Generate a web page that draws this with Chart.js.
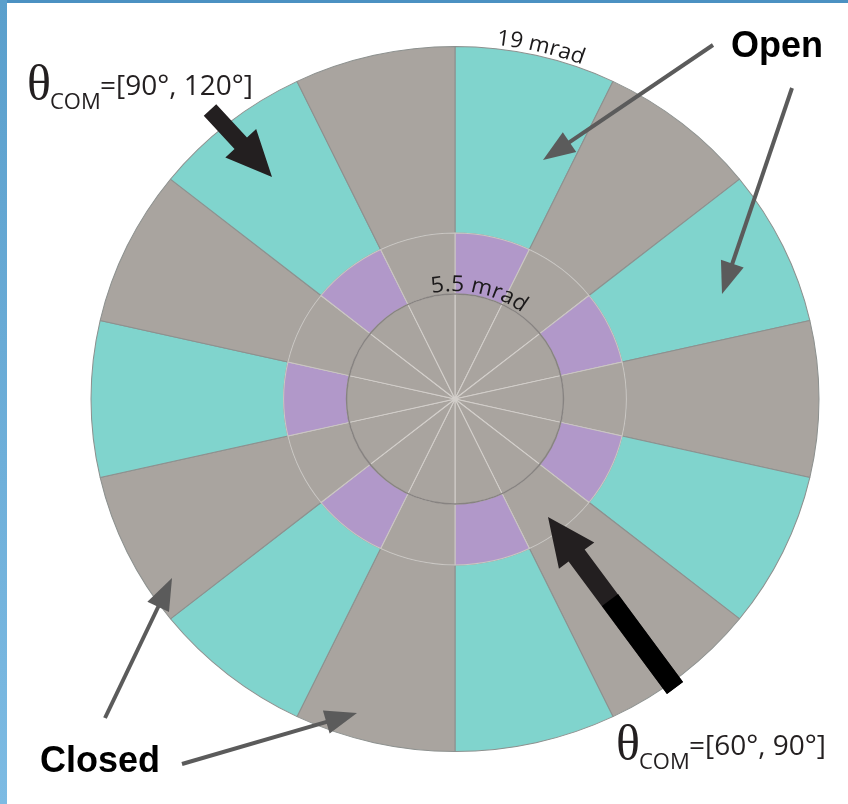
<!DOCTYPE html>
<html>
<head>
<meta charset="utf-8">
<script src="https://cdn.jsdelivr.net/npm/chart.js@4.4.1/dist/chart.umd.min.js"></script>
<style>
  html, body { margin: 0; padding: 0; background: #fff; }
  #wrap { position: relative; width: 848px; height: 804px; overflow: hidden; }
  #stripeTop { position: absolute; left: 0; top: 0; width: 848px; height: 3px; background: #4b91c2; }
  #stripeLeft { position: absolute; left: 0; top: 0; width: 7px; height: 804px; background: linear-gradient(#5a9fcc, #7dbbe3); }
  canvas { position: absolute; left: 0; top: 0; }
</style>
</head>
<body>
<div id="wrap">
  <canvas id="ringChart" width="848" height="804"></canvas>
  <div id="stripeTop"></div>
  <div id="stripeLeft"></div>
</div>
<script>
// ------------------------------------------------------------
// Azimuthal segmentation of the detector face (14 sectors)
// ------------------------------------------------------------
const sectorLabels = ['0–26°', '26–51°', '51–77°', '77–103°', '103–129°', '129–154°', '154–180°',
                      '180–206°', '206–231°', '231–257°', '257–283°', '283–309°', '309–334°', '334–360°'];
const sectorSpan   = [1, 1, 1, 1, 1, 1, 1, 1, 1, 1, 1, 1, 1, 1];

// outer ring (out to 19 mrad), middle ring, inner disc (5.5 mrad)
const outerState  = ['open', 'closed', 'open', 'closed', 'open', 'closed', 'open',
                     'closed', 'open', 'closed', 'open', 'closed', 'open', 'closed'];
const middleState = ['open', 'closed', 'open', 'closed', 'open', 'closed', 'open',
                     'closed', 'open', 'closed', 'open', 'closed', 'open', 'closed'];
const innerState  = ['closed', 'closed', 'closed', 'closed', 'closed', 'closed', 'closed',
                     'closed', 'closed', 'closed', 'closed', 'closed', 'closed', 'closed'];

const ringLabels  = ['19 mrad', '5.5 mrad'];
const thetaRanges = ['=[90°, 120°]', '=[60°, 90°]'];
const stateNames  = ['Open', 'Closed'];

const TEAL = '#80d4cd', GREY = '#a9a49f', PURPLE = '#b198c9';
const STRETCH_X = 1.0326;   // the ring is drawn slightly wider than tall

const outerColors  = outerState.map(s => s === 'open' ? TEAL : GREY);
const middleColors = middleState.map(s => s === 'open' ? PURPLE : GREY);
const innerColors  = innerState.map(() => GREY);

// ------------------------------------------------------------
// Drawing helpers
// ------------------------------------------------------------
function arcText(ctx, text, cx, cy, r, centerDeg) {
  const total = ctx.measureText(text).width;
  let a = centerDeg * Math.PI / 180 - total / 2 / r;
  ctx.textAlign = 'center';
  ctx.textBaseline = 'alphabetic';
  for (const ch of text) {
    const w = ctx.measureText(ch).width;
    ctx.save();
    ctx.translate(cx, cy);
    ctx.rotate(a + w / 2 / r);
    ctx.fillText(ch, 0, -r);
    ctx.restore();
    a += w / r;
  }
}

function blockArrow(ctx, tail, tip, shaftW, headW, headL, color) {
  const dx = tip[0] - tail[0], dy = tip[1] - tail[1];
  const len = Math.hypot(dx, dy);
  const ux = dx / len, uy = dy / len, nx = -uy, ny = ux;
  const bx = tip[0] - ux * headL, by = tip[1] - uy * headL;
  ctx.fillStyle = color;
  ctx.beginPath();
  ctx.moveTo(tail[0] + nx * shaftW / 2, tail[1] + ny * shaftW / 2);
  ctx.lineTo(bx + nx * shaftW / 2, by + ny * shaftW / 2);
  ctx.lineTo(bx + nx * headW / 2, by + ny * headW / 2);
  ctx.lineTo(tip[0], tip[1]);
  ctx.lineTo(bx - nx * headW / 2, by - ny * headW / 2);
  ctx.lineTo(bx - nx * shaftW / 2, by - ny * shaftW / 2);
  ctx.lineTo(tail[0] - nx * shaftW / 2, tail[1] - ny * shaftW / 2);
  ctx.closePath();
  ctx.fill();
}

function lineArrow(ctx, tail, tip, color) {
  const dx = tip[0] - tail[0], dy = tip[1] - tail[1];
  const len = Math.hypot(dx, dy);
  const ux = dx / len, uy = dy / len, nx = -uy, ny = ux;
  const headL = 32, headW = 24;
  const bx = tip[0] - ux * headL, by = tip[1] - uy * headL;
  ctx.strokeStyle = color;
  ctx.lineWidth = 4;
  ctx.beginPath();
  ctx.moveTo(tail[0], tail[1]);
  ctx.lineTo(bx + ux * 4, by + uy * 4);
  ctx.stroke();
  ctx.fillStyle = color;
  ctx.beginPath();
  ctx.moveTo(tip[0], tip[1]);
  ctx.lineTo(bx + nx * headW / 2, by + ny * headW / 2);
  ctx.lineTo(bx - nx * headW / 2, by - ny * headW / 2);
  ctx.closePath();
  ctx.fill();
}

function thetaLabel(ctx, x, y, range) {
  ctx.fillStyle = '#231f20';
  ctx.textAlign = 'left';
  ctx.textBaseline = 'alphabetic';
  ctx.font = '50px "Liberation Serif"';
  ctx.fillText('θ', x, y);
  ctx.font = '22px "Open Sans"';
  ctx.fillText('COM', x + 23, y + 9);
  ctx.font = '28px "Open Sans"';
  ctx.fillText(range, x + 73, y - 5);
}

// ------------------------------------------------------------
// Plugin: stretch the rings, then outline + labels + callouts
// ------------------------------------------------------------
const annotatePlugin = {
  id: 'annotate',
  beforeDatasetsDraw(chart) {
    const ctx = chart.ctx;
    const cx = (chart.chartArea.left + chart.chartArea.right) / 2;
    ctx.save();
    ctx.translate(cx, 0);
    ctx.scale(STRETCH_X, 1);
    ctx.translate(-cx, 0);
  },
  afterDatasetsDraw(chart) {
    const ctx = chart.ctx;
    const outerArc = chart.getDatasetMeta(0).data[0];
    const innerArc = chart.getDatasetMeta(2).data[0];
    const cx = innerArc.x, cy = innerArc.y;

    // inner disc outline
    ctx.strokeStyle = '#878381';
    ctx.lineWidth = 1.5;
    ctx.beginPath();
    ctx.arc(cx, cy, innerArc.outerRadius, 0, Math.PI * 2);
    ctx.stroke();

    // ring radii written along the rims
    ctx.fillStyle = '#1c1a1b';
    ctx.font = '22px "Open Sans"';
    arcText(ctx, ringLabels[0], cx, cy, outerArc.outerRadius + 4, 13.3);
    arcText(ctx, ringLabels[1], cx, cy, innerArc.outerRadius + 3, 12.5);
    ctx.restore();

    // callouts
    thetaLabel(ctx, 27, 100, thetaRanges[0]);
    thetaLabel(ctx, 616, 760, thetaRanges[1]);

    ctx.fillStyle = '#000';
    ctx.textAlign = 'left';
    ctx.font = 'bold 36px "Liberation Sans"';
    ctx.fillText(stateNames[0], 731, 57);
    ctx.fillText(stateNames[1], 40, 772);

    blockArrow(ctx, [210, 110], [272, 177], 17, 42, 46, '#231f20');
    blockArrow(ctx, [675, 688], [548, 517], 20, 44, 48, '#231f20');
    blockArrow(ctx, [675, 688], [610, 600], 20, 20, 0.01, '#000');

    const g = '#5b5b5b';
    lineArrow(ctx, [713, 45], [543, 160], g);
    lineArrow(ctx, [792, 88], [722, 294], g);
    lineArrow(ctx, [105, 718], [172, 578], g);
    lineArrow(ctx, [182, 764], [357, 713], g);
  }
};

// ------------------------------------------------------------
// Chart
// ------------------------------------------------------------
const ringChart = new Chart(document.getElementById('ringChart').getContext('2d'), {
  type: 'doughnut',
  data: {
    labels: sectorLabels,
    datasets: [
      { label: 'outer', data: sectorSpan, backgroundColor: outerColors, borderColor: '#8d918f', borderWidth: 1, weight: 186.5, order: 2 },
      { label: 'middle', data: sectorSpan, backgroundColor: middleColors, borderColor: '#cbc7c3', borderWidth: 1, weight: 61, order: 1 },
      { label: 'inner', data: sectorSpan, backgroundColor: innerColors, borderColor: '#d3cfcb', borderWidth: 1, weight: 105, order: 0 }
    ]
  },
  options: {
    responsive: false,
    animation: false,
    events: [],
    cutout: 0,
    rotation: 0,
    hoverOffset: 0,
    layout: { padding: { left: 102, right: 40, top: 46, bottom: 52 } },
    plugins: { legend: { display: false }, tooltip: { enabled: false } }
  },
  plugins: [annotatePlugin]
});
</script>
</body>
</html>
